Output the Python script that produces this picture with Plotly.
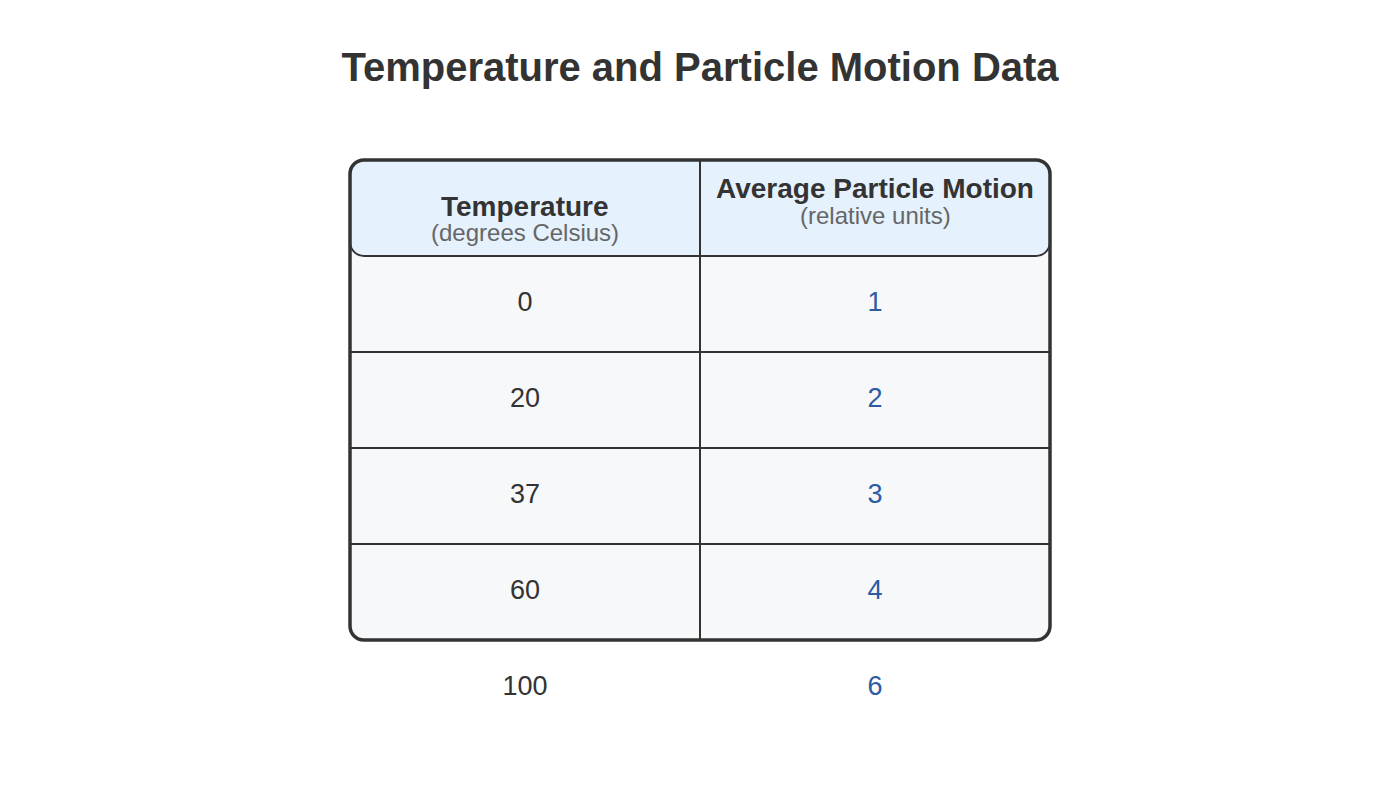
import plotly.graph_objects as go

# table data
headers = ["Temperature", "Average Particle Motion"]
subheaders = ["(degrees Celsius)", "(relative units)"]
temperature = [0, 20, 37, 60, 100]
motion = [1, 2, 3, 4, 6]
boxed_rows = 4  # the rounded box only covers the header and the first four rows

HEADER_FILL = "#e5f1fd"
CELL_FILL = "#f7f8fa"
LINE = "#333333"
TEXT = "#333333"
BLUE = "#2c5aa3"
FONT = "Liberation Sans, Arial, sans-serif"

COL_PX, ROW_PX, PAD_PX = 350, 96, 8


def rounded_path(x0, x1, y0, y1, rx, ry):
    # circular corners drawn as cubic beziers
    k = 0.448  # 1 - 0.552
    kx, ky = rx * k, ry * k
    return (f"M {x0+rx},{y0} L {x1-rx},{y0} "
            f"C {x1-kx},{y0} {x1},{y0+ky} {x1},{y0+ry} "
            f"L {x1},{y1-ry} C {x1},{y1-ky} {x1-kx},{y1} {x1-rx},{y1} "
            f"L {x0+rx},{y1} C {x0+kx},{y1} {x0},{y1-ky} {x0},{y1-ry} "
            f"L {x0},{y0+ry} C {x0},{y0+ky} {x0+kx},{y0} {x0+rx},{y0} Z")


def main():
    ncols = len(headers)
    nrows = len(temperature)
    rx, ry = 14 / COL_PX, 14 / ROW_PX
    columns = [temperature, motion]
    colors = [TEXT, BLUE]

    fig = go.Figure()
    shapes = []

    # body background inside the box
    shapes.append(dict(type="path", xref="x", yref="y",
                       path=rounded_path(0, ncols, 0.5, boxed_rows + 1, rx, ry),
                       fillcolor=CELL_FILL, line=dict(width=0), layer="below"))
    # header block
    shapes.append(dict(type="path", xref="x", yref="y",
                       path=rounded_path(0, ncols, 0, 1, rx, ry),
                       fillcolor=HEADER_FILL, line=dict(color=LINE, width=2),
                       layer="below"))
    # row separators
    for r in range(1, boxed_rows):
        shapes.append(dict(type="line", xref="x", yref="y", x0=0, x1=ncols,
                           y0=r + 1, y1=r + 1, line=dict(color=LINE, width=2)))
    # column divider
    for c in range(1, ncols):
        shapes.append(dict(type="line", xref="x", yref="y", x0=c, x1=c,
                           y0=0, y1=boxed_rows + 1, line=dict(color=LINE, width=2)))
    # outer rounded border
    shapes.append(dict(type="path", xref="x", yref="y",
                       path=rounded_path(0, ncols, 0, boxed_rows + 1, rx, ry),
                       line=dict(color=LINE, width=3.5)))

    # cell text
    for c in range(ncols):
        fig.add_trace(go.Scatter(
            x=[c + 0.5] * nrows, y=[r + 1.5 for r in range(nrows)],
            mode="text", text=[str(v) for v in columns[c]],
            textfont=dict(family=FONT, size=27, color=colors[c]),
            hoverinfo="skip", showlegend=False))

    # header text (the first header sits a little lower, as in the reference)
    title_y = [0.48, 0.30]
    sub_y = [0.76, 0.58]
    annotations = []
    for c in range(ncols):
        annotations.append(dict(x=c + 0.5, y=title_y[c], xref="x", yref="y",
                                text=f"<b>{headers[c]}</b>", showarrow=False,
                                font=dict(family=FONT, size=28, color=TEXT)))
        annotations.append(dict(x=c + 0.5, y=sub_y[c], xref="x", yref="y",
                                text=subheaders[c], showarrow=False,
                                font=dict(family=FONT, size=24, color="#666666")))

    # padding so the border stroke is not clipped by the plot area;
    # the page body adds an 8px offset, so margins are shifted by that much
    px_ = PAD_PX / COL_PX
    py_ = PAD_PX / ROW_PX
    fig.update_layout(
        width=1400, height=800,
        title=dict(text="<b>Temperature and Particle Motion Data</b>",
                   x=0.4943, xanchor="center", y=0.926, yanchor="middle",
                   font=dict(family=FONT, size=40, color=TEXT)),
        margin=dict(l=342 - PAD_PX, r=358 - PAD_PX, t=152 - PAD_PX, b=72 - PAD_PX),
        xaxis=dict(range=[-px_, ncols + px_], visible=False, fixedrange=True),
        yaxis=dict(range=[nrows + 1 + py_, -py_], visible=False, fixedrange=True),
        plot_bgcolor="white", paper_bgcolor="white",
        shapes=shapes, annotations=annotations,
    )
    fig.write_html("out.html")


if __name__ == "__main__":
    main()
